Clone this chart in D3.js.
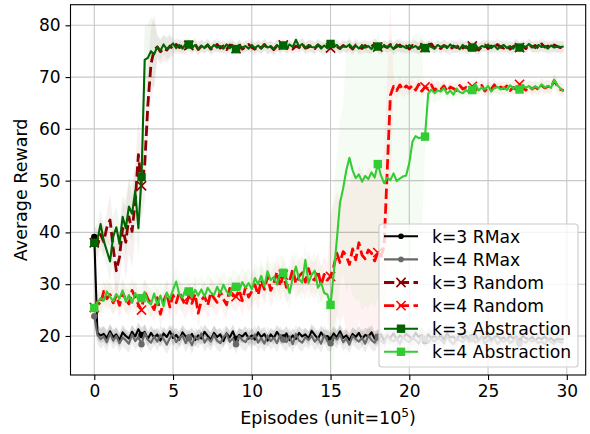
<!DOCTYPE html>
<html><head><meta charset="utf-8">
<script src="https://cdn.jsdelivr.net/npm/d3@7"></script>
<style>body{margin:0;background:#fff} svg{display:block} text{font-family:"DejaVu Sans",sans-serif;fill:#000}</style>
</head><body><svg id="c" width="590" height="434"></svg>
<script>
// ---- data (x = 0, 0.2, ..., 29.8 ; unit = 1e5 episodes) ----
const xStep = 0.2;
const xTicks = [0, 5, 10, 15, 20, 25, 30];
const yTicks = [20, 30, 40, 50, 60, 70, 80];
const seriesNames = ["k=3 RMax", "k=4 RMax", "k=3 Random", "k=4 Random", "k=3 Abstraction", "k=4 Abstraction"];

const k3RMax = [
39.1,20.6,20.1,20.4,19.6,20.9,19.8,20.3,19.2,20.7,
20.0,19.5,20.8,19.9,21.3,20.2,20.8,19.4,20.6,19.7,
20.3,19.1,20.5,19.8,20.9,19.6,20.2,19.3,20.7,19.9,
19.6,20.4,19.2,20.1,19.5,20.8,20.0,19.3,20.6,19.8,
20.3,19.0,20.5,19.7,20.9,19.4,20.2,19.9,20.6,19.5,
20.1,19.3,20.7,19.8,20.4,19.1,20.3,19.6,20.8,19.9,
19.7,20.5,19.2,20.1,19.4,20.6,19.9,20.3,19.5,21.0,
20.2,19.4,20.7,19.8,20.0,19.3,20.5,19.7,20.9,19.6,
20.1,19.2,20.4,19.8,20.6,19.4,20.2,19.9,20.7,19.5,
19.8,20.3,19.1,20.0,19.6,20.5,19.3,20.1,19.7,20.4,
19.9,19.4,20.6,19.8,20.2,19.0,20.3,19.6,20.0,19.5,
20.2,19.3,20.5,19.7,19.9,19.2,20.4,19.6,20.1,19.4,
19.8,20.3,19.1,19.9,19.5,20.2,19.3,19.8,20.0,19.4,
19.7,19.2,20.1,19.5,19.9,19.0,20.0,19.6,19.3,19.8,
19.1,19.7,19.4,19.9,19.2,19.6,19.0,19.5,19.3,19.4];

const k4RMax = [
23.8,20.2,19.4,19.9,18.8,20.5,19.1,20.0,18.6,19.7,
19.2,18.5,20.3,19.0,19.8,18.4,20.6,19.3,18.7,19.9,
18.9,20.2,19.4,18.3,19.6,20.4,18.8,19.5,20.1,18.6,
19.7,18.2,19.9,19.3,20.5,18.7,19.6,18.9,20.2,19.1,
18.6,19.8,20.4,18.9,19.5,18.4,20.0,19.2,18.8,19.9,
19.4,20.3,18.7,19.6,18.5,20.1,19.0,19.7,18.6,20.2,
19.3,18.8,19.9,18.4,20.4,19.1,18.7,19.8,19.2,20.0,
18.9,19.6,18.5,20.2,19.0,18.6,19.9,19.3,20.3,18.8,
19.5,18.3,20.0,19.4,18.9,19.7,18.5,20.1,19.2,18.7,
19.8,19.0,18.6,20.2,19.3,18.9,19.6,18.4,19.9,19.1,
18.8,19.7,19.2,18.5,20.0,19.4,18.7,19.5,18.9,19.8,
19.3,18.6,19.9,19.0,18.4,19.6,19.2,18.8,19.7,18.9,
19.5,18.7,19.1,19.8,18.5,19.3,18.9,19.6,18.4,19.2,
18.8,19.5,18.6,19.1,19.7,18.5,19.0,18.7,19.4,18.9,
19.2,18.6,19.0,18.4,19.3,18.8,18.5,19.1,18.7,18.9];

const k3Random = [
38.0,37.4,39.6,38.2,41.0,42.4,37.0,32.6,35.2,40.8,
38.1,43.0,40.2,46.0,55.0,49.0,53.0,64.5,72.5,75.3,
75.8,74.9,75.6,75.2,76.0,75.4,76.3,75.7,76.1,75.5,
76.1,75.6,76.4,75.3,76.0,75.7,76.2,75.4,75.9,76.3,
75.6,76.0,75.3,76.2,75.8,75.5,76.1,75.4,75.9,76.3,
75.7,75.4,76.0,75.6,76.3,75.5,75.9,75.3,76.1,75.8,
76.2,75.6,75.9,75.4,76.0,75.7,76.4,75.6,75.8,76.1,
75.5,76.2,75.8,75.4,76.0,75.6,76.3,75.9,75.5,76.1,
75.7,76.0,75.4,76.2,75.8,75.5,76.1,75.6,75.9,76.3,
75.8,75.4,76.0,75.7,76.3,75.5,75.9,76.2,75.6,76.0,
75.4,76.1,75.8,75.5,76.2,75.7,75.9,76.4,75.6,76.0,
75.5,76.1,75.8,75.3,76.0,75.7,76.3,75.6,75.9,75.4,
76.0,75.6,75.2,75.9,76.2,75.5,76.0,75.7,76.3,75.8,
75.6,76.1,75.4,75.9,76.2,75.7,76.0,75.5,76.3,75.8,
76.1,75.6,76.4,75.8,76.0,75.5,76.2,75.9,75.7,75.9];

const k4Random = [
25.5,26.6,26.0,28.6,27.2,28.0,26.4,27.8,25.9,28.4,
27.0,26.2,28.8,27.4,26.1,25.0,28.6,27.2,26.3,25.1,
27.4,24.2,26.8,28.2,25.6,27.9,26.4,28.5,27.0,25.8,
27.6,26.3,28.1,24.4,26.9,27.7,25.9,28.4,27.3,26.5,
28.6,27.1,26.0,29.2,27.8,27.6,28.9,26.8,29.4,27.5,
28.6,29.9,27.9,30.8,29.0,31.4,28.8,30.2,32.4,29.6,
31.8,29.4,30.6,32.9,30.1,31.5,32.2,30.4,33.0,31.1,
30.8,32.6,29.8,31.9,30.8,31.5,33.4,36.0,34.2,36.3,
35.5,33.8,36.8,34.7,38.0,35.6,34.9,36.6,36.0,34.5,
36.1,35.4,37.3,52.0,66.5,68.2,67.4,68.5,67.6,68.3,
67.8,68.4,67.5,68.6,67.3,68.1,67.7,68.5,67.4,68.0,
67.6,68.3,67.2,68.1,67.8,67.4,68.4,67.7,68.0,67.5,
68.2,67.6,67.9,68.4,67.3,68.0,67.7,68.5,67.5,68.1,
67.8,68.3,67.4,68.0,67.6,68.6,67.9,67.5,68.2,67.7,
68.1,67.6,68.4,67.9,68.2,68.0,69.3,68.3,67.6,67.4];

const k3Abstraction = [
38.0,38.6,41.6,38.4,36.4,34.4,39.2,41.0,37.8,43.0,
40.8,45.0,43.6,48.0,40.8,50.7,73.3,73.7,75.0,74.4,
75.9,75.1,76.3,75.4,75.9,76.5,75.6,76.2,75.5,76.4,
76.3,75.7,76.2,75.4,76.1,75.6,76.3,75.5,76.2,75.7,
76.0,75.5,76.3,75.6,76.1,75.4,76.2,75.7,76.0,75.5,
76.2,75.6,76.1,75.5,76.3,75.7,75.9,75.4,76.2,75.6,
76.1,75.5,76.3,75.8,77.2,75.9,76.4,75.6,76.2,75.8,
75.7,76.3,75.5,76.1,75.6,76.4,75.8,76.2,75.5,76.0,
75.8,76.3,75.6,76.1,75.5,76.2,75.7,76.0,75.4,76.3,
75.9,75.5,76.2,75.7,76.1,75.4,76.3,75.8,76.0,75.6,
76.2,75.7,76.0,75.5,76.3,75.6,76.1,75.8,75.5,76.2,
75.8,76.1,75.6,76.3,75.7,75.9,75.4,76.2,75.6,76.0,
75.7,76.2,75.5,76.0,75.8,76.3,75.6,76.1,75.4,75.9,
76.2,75.6,76.0,75.5,76.3,75.7,76.1,75.8,76.4,75.9,
75.6,76.2,75.8,76.0,75.5,76.1,75.7,75.9,75.8,75.9];

const k4Abstraction = [
25.4,26.5,27.3,26.8,28.6,27.6,26.7,28.1,27.2,28.8,
26.6,27.9,26.4,28.3,27.0,27.3,28.5,26.6,26.1,28.2,
26.0,27.8,25.7,28.4,27.1,28.9,30.5,28.0,27.4,29.1,
28.6,27.5,28.9,27.8,29.0,27.6,29.3,28.4,27.9,29.5,
28.2,29.9,28.6,27.8,29.8,29.5,28.8,30.4,29.3,30.2,
29.0,31.2,30.0,31.6,29.6,32.5,30.8,31.4,29.9,32.2,
32.2,30.5,28.3,31.2,33.4,31.0,30.3,34.7,30.2,31.8,
32.6,29.3,30.3,28.3,28.0,26.0,32.0,38.6,45.7,48.5,
52.0,54.4,52.0,50.5,51.2,49.8,50.9,50.3,51.6,50.6,
53.2,51.0,49.5,50.6,50.1,51.4,49.9,50.4,50.8,51.0,
53.4,57.5,58.6,58.2,58.4,58.5,66.8,67.6,66.9,67.4,
67.2,67.9,66.8,67.4,66.6,67.8,67.1,66.9,67.5,67.0,
67.5,68.6,67.4,68.0,67.6,68.3,67.2,67.9,68.1,67.6,
68.0,67.5,68.4,67.8,68.2,67.6,68.5,67.9,68.3,67.7,
68.2,67.8,68.6,68.0,68.3,67.9,69.5,68.4,67.8,67.2];

// standard deviation per unit interval [k, k+1), k = 0..29
const k3RMaxStd = [1.5,1.4,1.3,1.4,1.3,1.4,1.3,1.4,1.3,1.3,1.4,1.3,1.4,1.3,1.3,1.4,1.3,1.4,1.3,1.3,1.4,1.3,1.3,1.4,1.3,1.3,1.4,1.3,1.3,1.3];
const k4RMaxStd = [1.8,1.7,1.8,1.7,1.8,1.7,1.7,1.8,1.7,1.8,1.7,1.7,1.8,1.7,1.8,1.7,1.7,1.8,1.7,1.7,1.8,1.7,1.7,1.8,1.7,1.7,1.8,1.7,1.7,1.7];
const k3RandomStd = [3.0,5.0,7.0,7.0,2.5,1.3,1.2,1.2,1.2,1.1,1.2,1.2,1.1,1.2,1.2,1.1,1.2,1.2,1.1,1.2,1.2,1.1,1.2,1.2,1.1,1.2,1.2,1.1,1.2,1.2];
const k4RandomStd = [2.2,2.4,2.5,2.5,2.6,2.6,2.7,2.8,2.8,3.0,3.0,3.2,3.2,3.4,3.5,12.0,15.0,16.0,18.0,1.6,1.3,1.3,1.2,1.2,1.2,1.3,1.2,1.2,1.3,1.2];
const k3AbstractionStd = [3.0,4.0,5.5,6.5,2.0,1.2,1.1,1.1,1.1,1.0,1.1,1.1,1.0,1.1,1.1,1.0,1.1,1.1,1.0,1.1,1.1,1.0,1.1,1.1,1.0,1.1,1.1,1.0,1.1,1.1];
const k4AbstractionStd = [2.4,2.5,2.5,2.6,2.6,2.7,2.8,2.8,2.9,3.0,3.0,3.2,3.2,3.4,3.6,16.0,24.0,25.0,26.0,25.0,20.0,2.0,1.4,1.3,1.3,1.2,1.3,1.2,1.2,1.3];

const seriesColors = ["#000000", "#696969", "#8b0000", "#ff0000", "#006400", "#32cd32"];

// ---- drawing ----
const svg = d3.select("#c");
const L = 70.5, R = 585.7, T = 4.7, B = 375;
const x = d3.scaleLinear().domain([-1.51, 31.2]).range([L, R]);
const y = d3.scaleLinear().domain([12.46, 83.98]).range([B, T]);

svg.append("defs").append("clipPath").attr("id", "clip")
  .append("rect").attr("x", L).attr("y", T).attr("width", R - L).attr("height", B - T);

// grid
const grid = svg.append("g").attr("stroke", "#c8c8c8").attr("stroke-width", 1.1);
xTicks.forEach(t => grid.append("line").attr("x1", x(t)).attr("x2", x(t)).attr("y1", T).attr("y2", B));
yTicks.forEach(t => grid.append("line").attr("y1", y(t)).attr("y2", y(t)).attr("x1", L).attr("x2", R));

const series = [
  {name: seriesNames[0], v: k3RMax, s: k3RMaxStd, c: seriesColors[0], dash: null, mk: "o", band: 0.12},
  {name: seriesNames[1], v: k4RMax, s: k4RMaxStd, c: seriesColors[1], dash: null, mk: "o", band: 0.12},
  {name: seriesNames[2], v: k3Random, s: k3RandomStd, c: seriesColors[2], dash: "10.3,4.45", mk: "x", band: 0.06},
  {name: seriesNames[3], v: k4Random, s: k4RandomStd, c: seriesColors[3], dash: "10.3,4.45", mk: "x", band: 0.05},
  {name: seriesNames[4], v: k3Abstraction, s: k3AbstractionStd, c: seriesColors[4], dash: null, mk: "s", band: 0.06},
  {name: seriesNames[5], v: k4Abstraction, s: k4AbstractionStd, c: seriesColors[5], dash: null, mk: "s", band: 0.055}
];

const plot = svg.append("g").attr("clip-path", "url(#clip)");
const area = d3.area().x(d => x(d.x)).y0(d => y(d.lo)).y1(d => y(d.hi));
const line = d3.line().x(d => x(d.x)).y(d => y(d.v));

series.forEach(S => {
  const pts = S.v.map((v, i) => { const sd = S.s[Math.min(S.s.length - 1, Math.floor(i * xStep + 1e-9))]; return {x: i * xStep, v, lo: v - sd, hi: v + sd}; });
  plot.append("path").datum(pts).attr("d", area).attr("fill", S.c).attr("fill-opacity", S.band).attr("stroke", "none");
});

function marker(g, S, cx, cy, legend) {
  if (S.mk === "o") {
    g.append("circle").attr("cx", cx).attr("cy", cy).attr("r", legend ? 2.8 : 3.2).attr("fill", S.c);
  } else if (S.mk === "x") {
    const h = 4.6;
    g.append("path").attr("d", `M${cx-h},${cy-h}L${cx+h},${cy+h}M${cx-h},${cy+h}L${cx+h},${cy-h}`)
      .attr("stroke", S.c).attr("stroke-width", 1.6).attr("fill", "none");
  } else {
    const h = 4.2;
    g.append("rect").attr("x", cx - h).attr("y", cy - h).attr("width", 2 * h).attr("height", 2 * h).attr("fill", S.c);
  }
}

series.forEach(S => {
  const pts = S.v.map((v, i) => ({x: i * xStep, v}));
  const p = plot.append("path").datum(pts).attr("d", line).attr("fill", "none").attr("stroke", S.c)
    .attr("stroke-width", S.dash ? 2.8 : 2.1).attr("stroke-linejoin", "round");
  if (S.dash) p.attr("stroke-dasharray", S.dash);
  const mg = plot.append("g");
  pts.forEach((d, i) => { if (i % 15 === 0) marker(mg, S, x(d.x), y(d.v), false); });
});

// axes
const xa = svg.append("g").attr("transform", `translate(0,${B})`)
  .call(d3.axisBottom(x).tickValues(xTicks).tickFormat(d3.format("d")).tickSize(5).tickPadding(4.9));
const ya = svg.append("g").attr("transform", `translate(${L},0)`)
  .call(d3.axisLeft(y).tickValues(yTicks).tickFormat(d3.format("d")).tickSize(5).tickPadding(4.9));
[xa, ya].forEach(a => {
  a.select(".domain").remove();
  a.selectAll(".tick line").attr("stroke", "#000").attr("stroke-width", 1.1);
  a.selectAll(".tick text").attr("font-size", 17).attr("font-family", "DejaVu Sans").attr("fill", "#000");
});
svg.append("rect").attr("x", L).attr("y", T).attr("width", R - L).attr("height", B - T)
  .attr("fill", "none").attr("stroke", "#000").attr("stroke-width", 1.1);

// axis labels
const xl = svg.append("text").attr("x", (L + R) / 2).attr("y", 424).attr("text-anchor", "middle").attr("font-size", 17.5);
xl.append("tspan").text("Episodes (unit=10");
xl.append("tspan").attr("font-size", 12.2).attr("dy", -7).text("5");
xl.append("tspan").attr("dy", 7).text(")");
svg.append("text").attr("transform", `translate(27,${(T + B) / 2}) rotate(-90)`).attr("text-anchor", "middle")
  .attr("font-size", 17.5).text("Average Reward");

// legend
const lg = svg.append("g");
lg.append("rect").attr("x", 379).attr("y", 224).attr("width", 199).attr("height", 143).attr("rx", 3)
  .attr("fill", "#fff").attr("fill-opacity", 0.8).attr("stroke", "#cccccc").attr("stroke-width", 1.1);
series.forEach((S, i) => {
  const cy = 236.3 + i * 23.1;
  const l = lg.append("line").attr("x1", 384).attr("x2", 418).attr("y1", cy).attr("y2", cy)
    .attr("stroke", S.c).attr("stroke-width", S.dash ? 2.8 : 2.1);
  if (S.dash) l.attr("stroke-dasharray", S.dash);
  marker(lg, S, 401, cy, true);
  lg.append("text").attr("x", 432).attr("y", cy + 6.2).attr("font-size", 17.2).text(S.name);
});
</script>
</body></html>
